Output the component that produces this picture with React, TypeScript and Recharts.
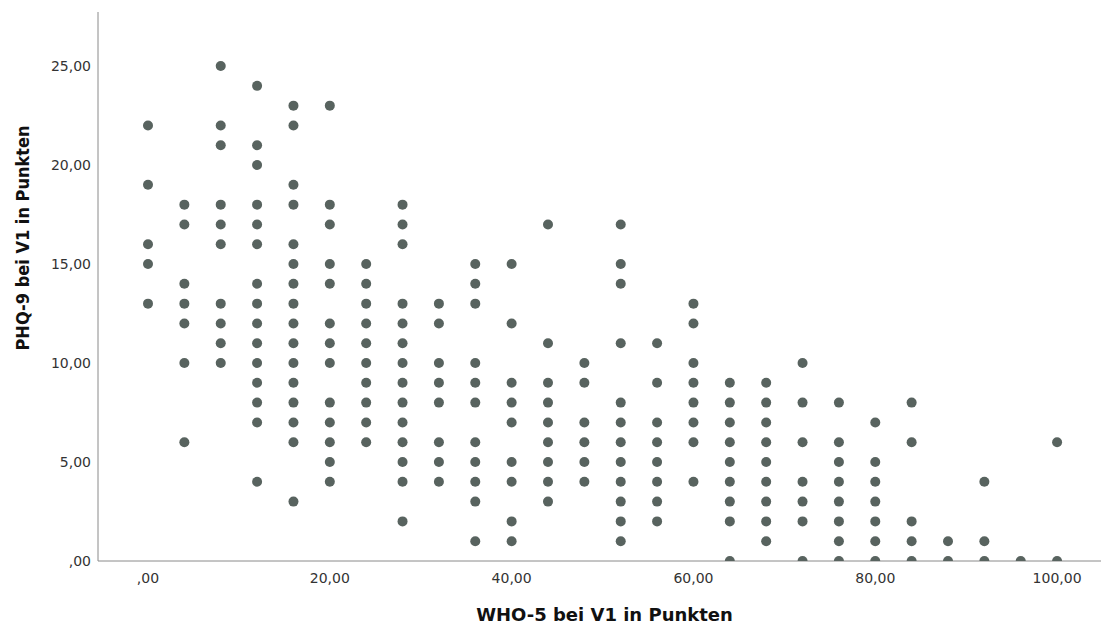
import React from 'react';
import { ScatterChart, Scatter, XAxis, YAxis, Label } from 'recharts';

// WHO-5 score columns (x) and the PHQ-9 scores observed in each column (y)
const whoScores = [0, 4, 8, 12, 16, 20, 24, 28, 32, 36, 40, 44, 48, 52, 56, 60, 64, 68, 72, 76, 80, 84, 88, 92, 96, 100];

const phqScores: number[][] = [
  [22, 19, 16, 15, 13],
  [18, 17, 14, 13, 12, 10, 6],
  [25, 22, 21, 18, 17, 16, 13, 12, 11, 10],
  [24, 21, 20, 18, 17, 16, 14, 13, 12, 11, 10, 9, 8, 7, 4],
  [23, 22, 19, 18, 16, 15, 14, 13, 12, 11, 10, 9, 8, 7, 6, 3],
  [23, 18, 17, 15, 14, 12, 11, 10, 8, 7, 6, 5, 4],
  [15, 14, 13, 12, 11, 10, 9, 8, 7, 6],
  [18, 17, 16, 13, 12, 11, 10, 9, 8, 7, 6, 5, 4, 2],
  [13, 12, 10, 9, 8, 6, 5, 4],
  [15, 14, 13, 10, 9, 8, 6, 5, 4, 3, 1],
  [15, 12, 9, 8, 7, 5, 4, 2, 1],
  [17, 11, 9, 8, 7, 6, 5, 4, 3],
  [10, 9, 7, 6, 5, 4],
  [17, 15, 14, 11, 8, 7, 6, 5, 4, 3, 2, 1],
  [11, 9, 7, 6, 5, 4, 3, 2],
  [13, 12, 10, 9, 8, 7, 6, 4],
  [9, 8, 7, 6, 5, 4, 3, 2, 0],
  [9, 8, 7, 6, 5, 4, 3, 2, 1],
  [10, 8, 6, 4, 3, 2, 0],
  [8, 6, 5, 4, 3, 2, 1, 0],
  [7, 5, 4, 3, 2, 1, 0],
  [8, 6, 2, 1, 0],
  [1, 0],
  [4, 1, 0],
  [0],
  [6, 0],
];

const xTicks = [0, 20, 40, 60, 80, 100];
const yTicks = [0, 5, 10, 15, 20, 25];

const xTitle = 'WHO-5 bei V1 in Punkten';
const yTitle = 'PHQ-9 bei V1 in Punkten';

const data = whoScores.flatMap((who, i) => phqScores[i].map((phq) => ({ who, phq })));

// SPSS style: 20,00 and ,00 for zero
const fmt = (v: number) => (v === 0 ? ',00' : v.toFixed(2).replace('.', ','));

const tickStyle = { fontFamily: 'DejaVu Sans', fontSize: 14, fill: '#333' };

const Dot = (props: any) => <circle cx={props.cx} cy={props.cy} r={5} fill="#58635f" />;

const XTitle = (props: any) => {
  const vb = props.viewBox;
  return (
    <text
      x={vb.x + vb.width / 2 + 5}
      y={621}
      textAnchor="middle"
      fontFamily="DejaVu Sans"
      fontWeight="bold"
      fontSize={18}
      fill="#111"
    >
      {xTitle}
    </text>
  );
};

const YTitle = () => (
  <text
    x={0}
    y={0}
    transform="translate(29, 238) rotate(-90)"
    textAnchor="middle"
    fontFamily="DejaVu Sans Condensed"
    fontWeight="bold"
    fontSize={18}
    fill="#111"
  >
    {yTitle}
  </text>
);

const App: React.FC = () => {
  return (
    <div style={{ position: 'absolute', left: 0, top: 0, background: '#fff' }}>
      <ScatterChart width={1101} height={624} margin={{ top: 12, right: 0, bottom: 0, left: 0 }}>
        <XAxis
          type="number"
          dataKey="who"
          domain={[-5.5, 104.83]}
          ticks={xTicks}
          tickFormatter={fmt}
          allowDataOverflow
          height={63}
          tickLine={false}
          tickSize={0}
          tickMargin={12}
          axisLine={{ stroke: '#8a8a8a' }}
          tick={tickStyle}
        >
          <Label content={<XTitle />} />
        </XAxis>
        <YAxis
          type="number"
          dataKey="phq"
          domain={[0, 27.73]}
          ticks={yTicks}
          tickFormatter={fmt}
          allowDataOverflow
          width={98}
          tickLine={false}
          tickSize={0}
          tickMargin={7}
          axisLine={{ stroke: '#8a8a8a' }}
          tick={tickStyle}
        >
          <Label content={<YTitle />} />
        </YAxis>
        <Scatter data={data} shape={<Dot />} isAnimationActive={false} />
      </ScatterChart>
    </div>
  );
};

export default App;
